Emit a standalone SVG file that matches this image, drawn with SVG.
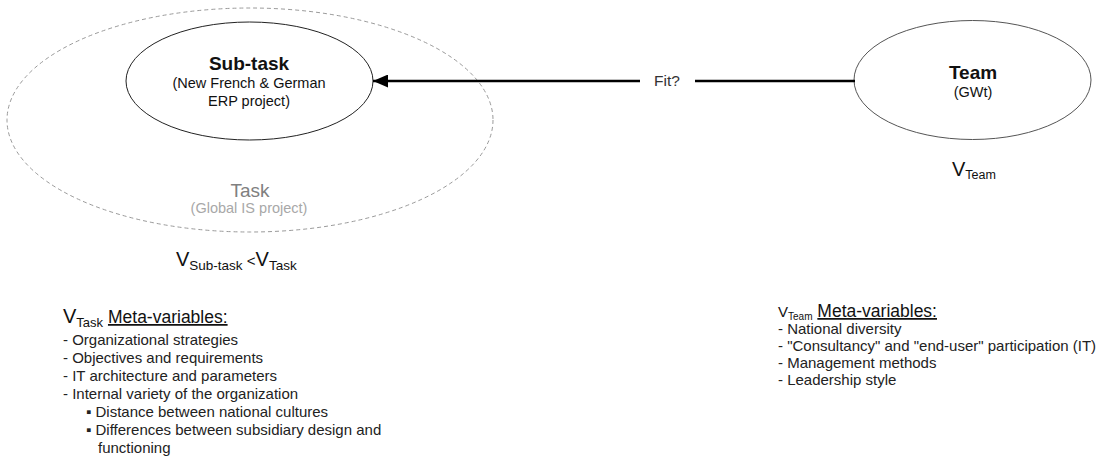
<svg xmlns="http://www.w3.org/2000/svg" width="1096" height="457" viewBox="0 0 1096 457">
<defs>
<style>
text{font-family:"Liberation Sans",Arial,sans-serif;fill:#111}
.title{font-size:19px;font-weight:bold;text-anchor:middle}
.sub{font-size:14.5px;text-anchor:middle}
.list{font-size:15px;fill:#222}
.big{font-size:20px}
.u{text-decoration:underline}
</style>
<marker id="ah" viewBox="0 0 15 13" refX="15" refY="6.5" markerWidth="15" markerHeight="13" markerUnits="userSpaceOnUse" orient="auto">
<path d="M0,0 L15,6.5 L0,13 Z" fill="#000"/>
</marker>
</defs>
<rect width="1096" height="457" fill="#fff"/>
<g id="task">
<ellipse cx="250" cy="120" rx="243" ry="112" fill="none" stroke="#9a9a9a" stroke-width="1" stroke-dasharray="4,3"/>
<text x="250" y="197" style="font-size:19px;text-anchor:middle;fill:#808080">Task</text>
<text x="249" y="213" class="sub" style="fill:#a8a8a8">(Global IS project)</text>
</g>
<g id="subtask">
<ellipse cx="249.5" cy="81" rx="123.5" ry="59" fill="#fff" stroke="#222" stroke-width="1"/>
<text x="249" y="70" class="title">Sub-task</text>
<text x="249" y="88" class="sub">(New French &amp; German</text>
<text x="249" y="106" class="sub">ERP project)</text>
</g>
<g id="team">
<ellipse cx="972.5" cy="80" rx="118.5" ry="59.5" fill="#fff" stroke="#555" stroke-width="1"/>
<text x="973" y="79" class="title">Team</text>
<text x="973" y="97" class="sub">(GWt)</text>
</g>
<g id="connectors">
<line x1="855" y1="81" x2="695" y2="81" stroke="#000" stroke-width="2.5"/>
<line x1="640" y1="81" x2="373" y2="81" stroke="#000" stroke-width="2.5" marker-end="url(#ah)"/>
<text x="667" y="86" style="font-size:15.5px;text-anchor:middle;fill:#333">Fit?</text>
</g>
<g id="vteam">
<text x="952" y="176" class="big">V<tspan dy="3" style="font-size:12.5px">Team</tspan></text>
</g>
<g id="vcompare">
<text x="176" y="266" class="big">V<tspan dy="4" style="font-size:13.5px">Sub-task</tspan><tspan dy="-4" style="font-size:15px"> &lt;</tspan>V<tspan dy="4" style="font-size:13.5px">Task</tspan></text>
</g>
<g id="task-vars">
<text x="63" y="323" class="big">V<tspan dy="4" style="font-size:13px">Task</tspan><tspan dy="-4" style="font-size:17.5px"> </tspan><tspan class="u" style="font-size:17.5px">Meta-variables:</tspan></text>
<text x="63" y="345" class="list">- Organizational strategies</text>
<text x="63" y="363" class="list">- Objectives and requirements</text>
<text x="63" y="381" class="list">- IT architecture and parameters</text>
<text x="63" y="399" class="list">- Internal variety of the organization</text>
<text x="86" y="417" class="list">▪ Distance between national cultures</text>
<text x="86" y="435" class="list">▪ Differences between subsidiary design and</text>
<text x="98" y="453" class="list">functioning</text>
</g>
<g id="team-vars">
<text x="778" y="317" style="font-size:15px">V<tspan dy="3" style="font-size:10px">Team</tspan><tspan dy="-3" style="font-size:17.5px"> </tspan><tspan class="u" style="font-size:17.5px">Meta-variables:</tspan></text>
<text x="778" y="334" class="list">- National diversity</text>
<text x="778" y="351" class="list">- "Consultancy" and "end-user" participation (IT)</text>
<text x="778" y="368" class="list">- Management methods</text>
<text x="778" y="385" class="list">- Leadership style</text>
</g>
</svg>
